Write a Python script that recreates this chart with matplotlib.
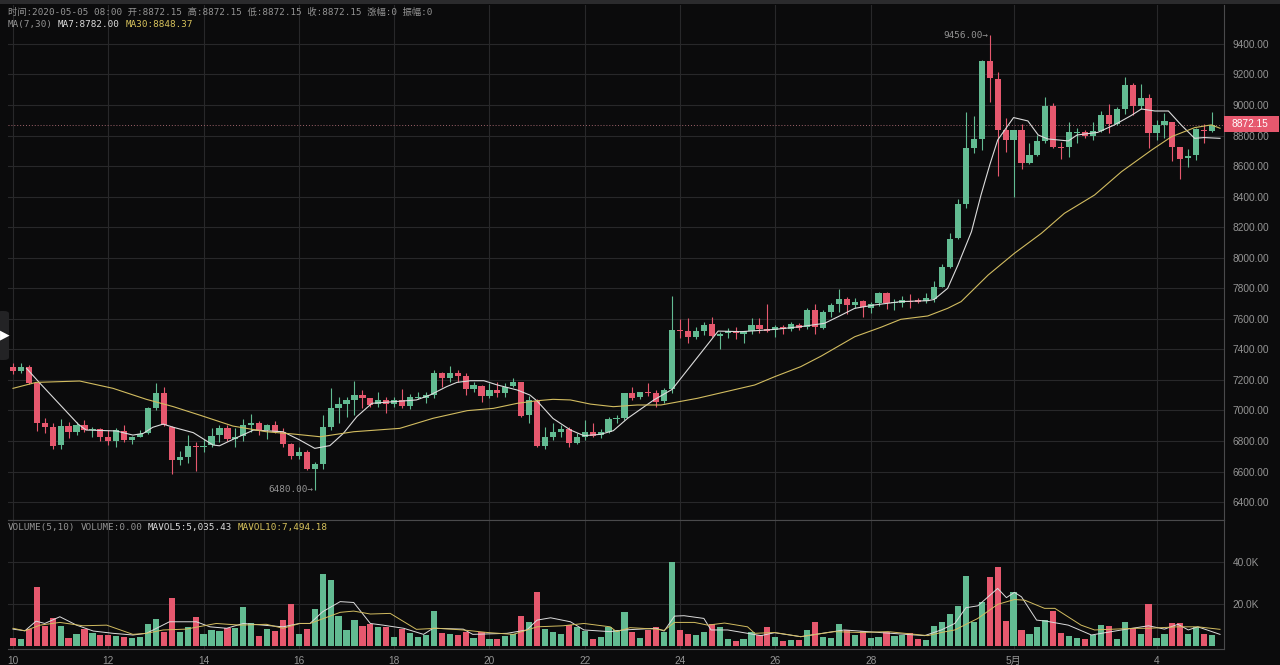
"""
plot.py
BTC 4h candlestick chart with MA lines and volume panel, dark theme.
"""

import matplotlib
matplotlib.use("Agg")
import matplotlib.pyplot as plt
from matplotlib.patches import FancyBboxPatch, Rectangle
from matplotlib.ticker import FuncFormatter

opens = [7287, 7261, 7282, 7178, 6916, 6890, 6772, 6898, 6859, 6905,
         6870, 6876, 6824, 6800, 6868, 6807, 6826, 6850, 7018, 7112,
         6894, 6676, 6697, 6767, 6763, 6774, 6837, 6883, 6815, 6833,
         6905, 6916, 6872, 6903, 6861, 6780, 6702, 6728, 6619, 6649,
         6890, 7018, 7042, 7069, 7101, 7080, 7040, 7069, 7040, 7069,
         7029, 7080, 7084, 7101, 7243, 7210, 7248, 7226, 7139, 7163,
         7095, 7134, 7117, 7158, 7187, 6968, 7064, 6767, 6824, 6857,
         6881, 6789, 6824, 6861, 6839, 6859, 6942, 6949, 7112, 7086,
         7123, 7112, 7064, 7138, 7527, 7520, 7479, 7520, 7564, 7490,
         7505, 7518, 7503, 7520, 7558, 7531, 7527, 7549, 7534, 7562,
         7545, 7658, 7538, 7647, 7695, 7730, 7691, 7717, 7673, 7702,
         7772, 7706, 7706, 7719, 7721, 7717, 7730, 7811, 7942, 8127,
         8352, 8721, 8778, 9289, 9171, 8837, 8771, 8837, 8618, 8673,
         8765, 8994, 8728, 8728, 8819, 8826, 8800, 8830, 8935, 8876,
         8974, 9131, 8994, 9044, 8815, 8870, 8891, 8728, 8651, 8673,
         8839, 8830, 8872.15]
highs = [7313, 7309, 7298, 7178, 6948, 6920, 6942, 6927, 6927, 6938,
         6890, 6883, 6872, 6887, 6905, 6833, 6872, 7021, 7178, 7152,
         6898, 6737, 6839, 6796, 6811, 6883, 6905, 6905, 6883, 6942,
         6977, 6933, 6911, 6931, 6883, 6785, 6763, 6741, 6665, 6970,
         7145, 7086, 7086, 7195, 7134, 7080, 7119, 7090, 7090, 7138,
         7106, 7119, 7123, 7265, 7254, 7291, 7265, 7243, 7189, 7167,
         7178, 7189, 7182, 7210, 7189, 7095, 7073, 6890, 6916, 6905,
         6890, 6855, 6938, 6916, 6877, 6960, 6970, 7117, 7156, 7123,
         7182, 7134, 7145, 7750, 7597, 7603, 7545, 7582, 7614, 7516,
         7538, 7549, 7520, 7603, 7603, 7697, 7560, 7560, 7582, 7571,
         7669, 7697, 7658, 7706, 7793, 7741, 7734, 7724, 7713, 7776,
         7778, 7728, 7750, 7763, 7734, 7767, 7848, 7959, 8160, 8385,
         8952, 8931, 9295, 9456, 9219, 8913, 8837, 8874, 8749, 8804,
         9055, 9011, 8760, 8891, 8852, 8837, 8887, 8961, 9005, 8990,
         9186, 9142, 9136, 9070, 8902, 8946, 8891, 8728, 8712, 8848,
         8874, 8952, 8872.15]
lows = [7239, 7248, 7173, 6868, 6850, 6745, 6745, 6817, 6837, 6861,
        6828, 6802, 6774, 6763, 6796, 6780, 6824, 6846, 7003, 6898,
        6584, 6643, 6658, 6606, 6730, 6763, 6796, 6802, 6763, 6802,
        6861, 6837, 6811, 6850, 6759, 6680, 6680, 6610, 6480, 6615,
        6872, 6920, 6955, 6970, 7014, 7025, 7025, 6986, 7025, 7014,
        7012, 7073, 7051, 7080, 7156, 7189, 7189, 7101, 7119, 7058,
        7080, 7090, 7086, 7156, 6955, 6916, 6763, 6748, 6807, 6824,
        6763, 6780, 6807, 6824, 6818, 6850, 6920, 6938, 7069, 7073,
        7095, 7025, 7047, 7112, 7477, 7440, 7466, 7494, 7483, 7400,
        7472, 7468, 7444, 7501, 7510, 7516, 7483, 7501, 7523, 7527,
        7531, 7501, 7531, 7614, 7643, 7632, 7669, 7614, 7636, 7684,
        7662, 7658, 7676, 7669, 7706, 7706, 7712, 7811, 7931, 8123,
        8328, 8684, 8706, 9022, 8538, 8695, 8400, 8581, 8612, 8669,
        8749, 8717, 8647, 8662, 8749, 8787, 8769, 8821, 8815, 8870,
        8939, 8935, 8974, 8717, 8771, 8782, 8634, 8516, 8597, 8640,
        8749, 8826, 8872.15]
closes = [7261, 7287, 7178, 6920, 6894, 6767, 6898, 6859, 6905, 6872,
          6876, 6828, 6800, 6870, 6807, 6824, 6846, 7016, 7112, 6905,
          6676, 6693, 6765, 6763, 6769, 6835, 6883, 6815, 6824, 6903,
          6916, 6872, 6903, 6861, 6780, 6702, 6728, 6619, 6649, 6890,
          7014, 7042, 7069, 7101, 7082, 7036, 7069, 7040, 7069, 7029,
          7086, 7086, 7101, 7243, 7210, 7248, 7228, 7141, 7167, 7095,
          7134, 7112, 7156, 7189, 6964, 7069, 6767, 6824, 6857, 6881,
          6789, 6824, 6861, 6835, 6859, 6942, 6949, 7112, 7080, 7123,
          7112, 7058, 7134, 7527, 7520, 7479, 7520, 7562, 7488, 7501,
          7520, 7505, 7518, 7558, 7531, 7520, 7545, 7534, 7564, 7540,
          7658, 7545, 7647, 7691, 7730, 7691, 7713, 7676, 7697, 7772,
          7702, 7713, 7724, 7713, 7713, 7734, 7811, 7942, 8123, 8350,
          8721, 8778, 9289, 9175, 8837, 8771, 8837, 8618, 8673, 8765,
          8994, 8728, 8721, 8826, 8826, 8800, 8830, 8935, 8876, 8974,
          9131, 8996, 9044, 8815, 8870, 8896, 8728, 8647, 8669, 8843,
          8830, 8872.15, 8872.15]
volumes = [3.8, 3.2, 7.9, 28.0, 9.5, 13.0, 9.4, 3.8, 5.7, 7.9,
           6.2, 5.1, 5.1, 4.8, 4.3, 3.5, 4.0, 10.3, 12.7, 6.7,
           22.9, 6.7, 9.0, 13.6, 5.4, 7.5, 7.1, 8.3, 8.3, 18.3,
           10.6, 4.8, 7.8, 7.0, 12.2, 19.7, 5.7, 7.9, 17.5, 34.0,
           31.3, 14.1, 7.3, 12.2, 9.2, 10.5, 8.9, 8.9, 4.3, 7.9,
           6.2, 4.0, 5.1, 16.5, 6.2, 5.4, 5.1, 6.7, 3.5, 6.7,
           3.3, 3.3, 4.8, 5.4, 14.1, 11.4, 25.4, 7.9, 6.7, 5.6,
           9.8, 9.0, 7.1, 3.2, 4.1, 9.0, 7.5, 15.9, 6.7, 3.5,
           7.5, 8.9, 6.7, 40.0, 7.3, 5.6, 5.1, 6.7, 10.3, 8.9,
           3.2, 2.4, 3.2, 6.3, 5.1, 8.9, 4.3, 2.4, 2.7, 2.7,
           7.5, 11.4, 4.3, 3.8, 10.3, 7.5, 5.1, 7.1, 3.8, 4.3,
           6.3, 4.8, 5.1, 5.9, 3.2, 2.7, 9.4, 11.1, 15.1, 18.9,
           33.3, 11.4, 20.6, 32.9, 37.6, 11.7, 25.4, 7.5, 5.7, 8.7,
           12.2, 16.7, 6.2, 4.8, 3.5, 3.2, 5.1, 9.8, 9.4, 3.2,
           11.1, 8.6, 5.7, 19.8, 3.8, 5.4, 10.6, 10.6, 5.7, 9.0,
           5.4, 5.1, 0.0]

ma7_x = [1.7, 3.4, 8.2, 9.2, 13, 15.1, 16.4, 17.6, 18.9, 20.2, 22.7, 25.2, 26, 27.7,
         30.3, 34, 36.1, 38, 39.9, 41.6, 43.3, 45.2, 50.8, 52.5, 54.6, 55.9, 57.6, 59.3,
         61, 63.5, 65.1, 66, 68, 70.2, 71.9, 74, 75.6, 77.4, 80.7, 83, 88.8, 91.7,
         95.9, 99.2, 102.2, 103.9, 106, 108.5, 111.8, 115.2, 116, 117.7, 119, 120.7, 121.9,
         123, 124, 126, 127.8, 129.1, 130.3, 132.9, 134, 136.6, 138.7, 140.8, 142.1, 143.8,
         145.5, 147.1, 148.8, 150, 152]
ma7_y = [7276, 7178, 6911, 6872, 6866, 6839, 6850, 6890, 6911, 6890, 6855, 6774, 6769, 6811,
         6872, 6861, 6807, 6752, 6770, 6850, 6960, 7047, 7069, 7101, 7156, 7184, 7195, 7195,
         7167, 7134, 7101, 7062, 6948, 6872, 6835, 6844, 6868, 6949, 7069, 7138, 7520, 7516,
         7531, 7549, 7571, 7614, 7669, 7691, 7713, 7719, 7727, 7800, 7953, 8171, 8411,
         8608, 8771, 8918, 8896, 8804, 8778, 8765, 8804, 8821, 8870, 8931, 8974, 8961,
         8961, 8870, 8782, 8787, 8782]
ma30_x = [0, 2.9, 8.4, 12.6, 16.8, 20.2, 23.5, 27.7, 31.9, 35.3, 38.7, 42.9, 48.7, 52.9,
          57.2, 60.5, 63.5, 66, 68, 70.2, 72.7, 75.6, 78.6, 81.6, 86.2, 93.4, 95.9, 99.2,
          101.8, 106, 109.3, 111.8, 115.2, 117.7, 119.4, 122.8, 126.1, 129.5, 132.4, 136.2,
          139.6, 143.4, 145.9, 148.8, 150.9, 152]
ma30_y = [7145, 7184, 7193, 7145, 7073, 7025, 6970, 6898, 6861, 6846, 6828, 6861, 6883, 6949,
          6999, 7014, 7047, 7064, 7073, 7069, 7042, 7025, 7036, 7036, 7080, 7167, 7221, 7287,
          7357, 7483, 7545, 7597, 7619, 7669, 7713, 7887, 8029, 8160, 8291, 8411,
          8564, 8706, 8793, 8852, 8870, 8848]
mavol5_x = [0, 1.5, 2.9, 4, 5.9, 8, 10.1, 12.6, 15.1, 16.8, 19.7, 23.1, 24.8, 26.9, 29, 31.5,
            34, 36.1, 37.4, 39, 41.2, 42.9, 45, 46.6, 49.2, 51.7, 52.9, 56.7, 57.9, 62.2,
            64.7, 66, 67.7, 70.2, 71.9, 75.2, 76.9, 81, 82, 83.3, 84.5, 87, 87.9, 90, 92.5,
            94.2, 95.9, 99.2, 102.6, 104.7, 107.6, 110.6, 114.8, 116.9, 118.6, 120, 121.5,
            124, 125.1, 126.1, 127, 128.9, 130.1, 132.9, 135.8, 139.6, 143, 145, 146.7, 148,
            149.2, 152]
mavol5_y = [7.9, 7.1, 11.7, 10.6, 13.8, 9.8, 7.0, 5.9, 5.1, 5.9, 11.4, 11.4, 9.0, 8.3, 10.6, 9.8,
            9.0, 10.6, 10.6, 16.2, 21.0, 20.6, 10.6, 9.8, 8.3, 5.4, 8.3, 7.9, 5.4, 5.9,
            7.5, 12.2, 13.3, 11.4, 7.5, 6.7, 7.5, 8.3, 7.0, 14.1, 14.3, 13.0, 7.5, 7.5, 5.9,
            4.8, 6.2, 4.3, 6.3, 7.5, 6.7, 5.9, 4.8, 7.5, 10.6, 18.1, 19.0,
            27.3, 22.9, 25.4, 23.3, 12.2, 11.7, 9.8, 5.1, 7.5, 9.5, 7.9, 10.2, 7.5,
            9.0, 5.4]
mavol10_x = [0, 1.5, 3.4, 5.9, 8.8, 11.8, 15.1, 16.8, 18.9, 21.8, 25.6, 28.6, 31.9, 34, 36.1,
             37.4, 41.2, 42.9, 45, 47.5, 50.8, 53.4, 56.7, 59.7, 63, 66, 69.3, 71.9, 75.2, 76,
             77.7, 81, 82, 83.3, 85.8, 87.5, 89.6, 92.5, 93.4, 95.9, 99.2, 103.4, 106.8, 110.2,
             115.2, 116.9, 118.6, 121.5, 124, 126.1, 127.4, 129.9, 131.2, 134.5, 136.2, 138.7,
             141.3, 143, 146.7, 149.2, 152]
mavol10_y = [8.3, 7.1, 9.8, 11.1, 9.5, 9.8, 5.4, 5.9, 7.5, 7.9, 10.6, 9.8, 10.2, 8.3, 10.6,
             10.6, 15.9, 16.5, 15.1, 15.4, 7.8, 8.3, 7.5, 6.3, 5.4, 9.0, 9.5, 10.6, 9.0, 6.7,
             8.6, 7.9, 7.3, 11.1, 11.1, 9.8, 10.8, 9.0, 5.9, 6.3, 4.3, 6.7, 6.3, 6.7,
             4.8, 6.3, 7.5, 13.0, 19.7, 22.0, 21.7, 17.8, 17.8, 9.8, 7.5, 7.9,
             8.3, 8.3, 9.0, 9.0, 7.8]

date_ticks = [0, 12, 24, 36, 48, 60, 72, 84, 96, 108, 126, 144]
date_labels = ["10", "12", "14", "16", "18", "20", "22", "24", "26", "28", "5月", "4"]
price_ticks = [6400, 6600, 6800, 7000, 7200, 7400, 7600, 7800, 8000, 8200,
               8400, 8600, 8800, 9000, 9200, 9400]
volume_ticks = [20, 40]
last_price = 8872.15

BG = "#0b0b0c"
GRID = "#28282a"
BORDER = "#4a4a4c"
TEXT = "#949494"
UP = "#62bb92"
DOWN = "#e6586e"
WHITE_LINE = "#dcdcdc"
YELLOW_LINE = "#d2bc60"
MONO = ["DejaVu Sans Mono", "Noto Sans CJK SC"]
SANS = ["Liberation Sans", "Noto Sans CJK SC"]
W, H = 1280, 665

plt.rcParams["font.family"] = SANS


def pane(left, top, right, bottom):
    """Axes from pixel edges, y measured from the top of the image."""
    return fig.add_axes([left / W, 1 - bottom / H, (right - left) / W, (bottom - top) / H])


def label(x, y, text, color=TEXT):
    fig.text(x / W, 1 - (y + 3) / H, text, color=color, fontsize=6.7, family=MONO,
             va="baseline", ha="left")


fig = plt.figure(figsize=(W / 100, H / 100), dpi=100, facecolor=BG)
ax = pane(8, 5, 1224, 520)
vax = pane(8, 520, 1224, 649)

n = len(opens)
xs = list(range(n))
colors = [UP if c >= o else DOWN for o, c in zip(opens, closes)]

ax.vlines(xs, lows, highs, colors=colors, linewidth=0.8, zorder=3)
bottoms = [min(o, c) for o, c in zip(opens, closes)]
heights = [max(abs(c - o), 6) for o, c in zip(opens, closes)]
ax.bar(xs[:-1], heights[:-1], bottom=bottoms[:-1], width=0.78, color=colors[:-1], linewidth=0, zorder=3)
ax.plot(ma7_x, ma7_y, color=WHITE_LINE, linewidth=0.8, zorder=4)
ax.plot(ma30_x, ma30_y, color=YELLOW_LINE, linewidth=0.8, zorder=4)
ax.axhline(last_price, color="#a0646c", linewidth=0.7, linestyle=(0, (1, 2)), zorder=2)

ax.set_xlim(-0.63, 152.5)
ax.set_ylim(6283, 9655)
ax.set_xticks(date_ticks)
ax.set_yticks(price_ticks)
ax.yaxis.tick_right()
ax.yaxis.set_major_formatter(FuncFormatter(lambda v, _: f"{v:.2f}"))
ax.tick_params(axis="x", length=0, labelbottom=False)
ax.tick_params(axis="y", length=0, pad=6, labelcolor=TEXT, labelsize=7.3)

vax.bar(xs, volumes, width=0.78, color=colors, linewidth=0, zorder=3)
vax.plot(mavol5_x, mavol5_y, color=WHITE_LINE, linewidth=0.7, zorder=4)
vax.plot(mavol10_x, mavol10_y, color=YELLOW_LINE, linewidth=0.7, zorder=4)
vax.set_xlim(-0.63, 152.5)
vax.set_ylim(-1.57, 59.9)
vax.set_xticks(date_ticks)
vax.set_xticklabels(date_labels)
vax.set_yticks(volume_ticks)
vax.yaxis.tick_right()
vax.yaxis.set_major_formatter(FuncFormatter(lambda v, _: f"{v:.1f}K"))
vax.tick_params(axis="x", length=0, pad=5, labelcolor=TEXT, labelsize=7.3)
vax.tick_params(axis="y", length=0, pad=6, labelcolor=TEXT, labelsize=7.3)

for a in (ax, vax):
    a.set_facecolor(BG)
    a.grid(True, color=GRID, linewidth=0.8, zorder=0)
    a.set_axisbelow(True)
    a.spines["left"].set_visible(False)
    a.spines["top"].set_visible(False)
    a.spines["right"].set_color(BORDER)
    a.spines["bottom"].set_color(BORDER)
    a.spines["right"].set_linewidth(0.8)
    a.spines["bottom"].set_linewidth(0.8)
vax.spines["top"].set_visible(True)
vax.spines["top"].set_color(BORDER)
vax.spines["top"].set_linewidth(0.8)

# extreme price markers
ax.annotate("9456.00→", xy=(123, 9456), xytext=(-1, 0), textcoords="offset points",
            ha="right", va="center", color=TEXT, fontsize=6.7, family=MONO)
ax.annotate("6480.00→", xy=(38, 6480), xytext=(-1, 0), textcoords="offset points",
            ha="right", va="center", color=TEXT, fontsize=6.7, family=MONO)

# last price tag on the right axis
fig.patches.append(Rectangle((1224 / W, 1 - 132 / H), 55 / W, 16 / H, transform=fig.transFigure,
                             facecolor=DOWN, edgecolor="none", figure=fig))
fig.text(1250 / W, 1 - 124 / H, f"{last_price:.2f}", color="white", fontsize=7.3,
         ha="center", va="center")

# header lines
label(8, 12, "时间:2020-05-05 08:00 开:8872.15 高:8872.15 低:8872.15 收:8872.15 涨幅:0 振幅:0")
label(8, 24, "MA(7,30)")
label(58, 24, "MA7:8782.00", "#dcdcdc")
label(126, 24, "MA30:8848.37", "#d8c35c")
label(8, 527, "VOLUME(5,10)")
label(81, 527, "VOLUME:0.00")
label(148, 527, "MAVOL5:5,035.43", "#dcdcdc")
label(238, 527, "MAVOL10:7,494.18", "#d8c35c")

# window chrome: top strip and collapse handle
fig.patches.append(Rectangle((0, 1 - 4 / H), 1, 4 / H, transform=fig.transFigure,
                             facecolor="#2b2b2d", edgecolor="none", figure=fig))
fig.patches.append(FancyBboxPatch((-4 / W, 1 - 360 / H), 13 / W, 49 / H,
                                  boxstyle="round,pad=0,rounding_size=0.004",
                                  transform=fig.transFigure, facecolor="#232325",
                                  edgecolor="none", figure=fig))
fig.text(4.5 / W, 1 - 335 / H, "▶", color="white", fontsize=9, family="DejaVu Sans", ha="center", va="center")

fig.savefig("out.png", dpi=100, facecolor=BG)
